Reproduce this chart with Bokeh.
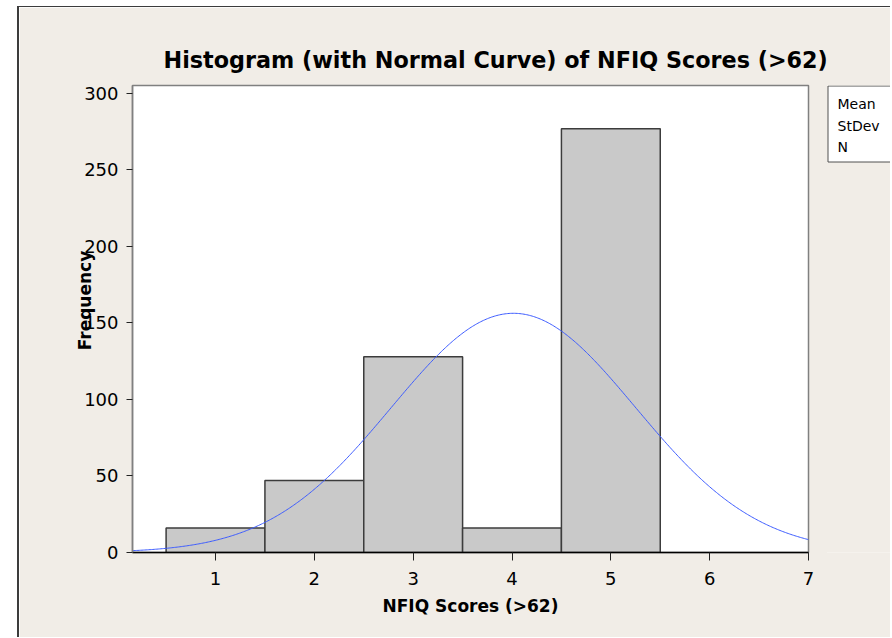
import numpy as np
from bokeh.plotting import figure
from bokeh.layouts import row
from bokeh.models import Range1d, FixedTicker, Label, BoxAnnotation
from bokeh.embed import file_html
from bokeh.resources import INLINE

# ---- data ----
scores = [1, 2, 3, 4, 5]
frequency = [16, 47, 128, 16, 277]
bin_width = 1.0
x_ticks = [1, 2, 3, 4, 5, 6, 7]
y_ticks = [0, 50, 100, 150, 200, 250, 300]
stat_names = ["Mean", "StDev", "N"]

title_text = "Histogram (with Normal Curve) of NFIQ Scores (>62)"
x_label = "NFIQ Scores (>62)"
y_label = "Frequency"

# fitted normal curve parameters derived from the histogram counts
s_arr = np.array(scores, dtype=float)
f_arr = np.array(frequency, dtype=float)
n_obs = f_arr.sum()
mean_v = (s_arr * f_arr).sum() / n_obs
sd_v = np.sqrt(((s_arr - mean_v) ** 2 * f_arr).sum() / (n_obs - 1))

# ---- layout ----
BG = "#f1ede7"
FONT = "DejaVu Sans"
X0, X1 = 0.16, 7.0
Y0, Y1 = 0.0, 305.2
W, H = 810, 631
ML, MR, MT, MB = 113, 21, 78, 86
FH = H - MT - MB
W2 = 64

p = figure(width=W, height=H, x_range=Range1d(X0, X1), y_range=Range1d(Y0, Y1),
           output_backend="svg", toolbar_location=None,
           min_border_left=ML, min_border_right=MR, min_border_top=MT, min_border_bottom=MB,
           background_fill_color="white", border_fill_color=BG)
p.styles = {"margin-left": "17px", "margin-top": "6px",
            "border-left": "2px solid #3c3c3c", "border-top": "1px solid #3c3c3c"}

p.grid.visible = False
p.outline_line_color = "#808080"
p.outline_line_width = 1.5

# title
p.title.text = title_text
p.title.text_font = FONT
p.title.text_font_style = "bold"
p.title.text_font_size = "22.3px"
p.title.text_color = "black"
p.title.align = "left"
p.title.offset = 31
p.title.standoff = 26

lefts = [s - bin_width / 2 for s in scores]
rights = [s + bin_width / 2 for s in scores]
p.quad(left=lefts, right=rights, top=frequency, bottom=0,
       fill_color="#c9c9c9", line_color="#3c3c3c", line_width=1.5)

xs = np.linspace(X0, X1, 500)
ys = n_obs * bin_width / (sd_v * np.sqrt(2 * np.pi)) * np.exp(-0.5 * ((xs - mean_v) / sd_v) ** 2)
p.line(xs, ys, line_color="#3d5cff", line_width=1)

# axes
p.xaxis.ticker = FixedTicker(ticks=x_ticks)
p.yaxis.ticker = FixedTicker(ticks=y_ticks)
for ax in (p.xaxis, p.yaxis):
    ax.major_tick_in = 0
    ax.minor_tick_line_color = None
    ax.major_tick_line_color = "#222222"
    ax.major_tick_line_width = 1
    ax.major_label_text_font = FONT
    ax.major_label_text_font_size = "18px"
    ax.major_label_text_color = "black"
    ax.axis_label_text_font = FONT
    ax.axis_label_text_font_style = "bold"
    ax.axis_label_text_font_size = "17px"
    ax.axis_label_text_color = "black"
p.xaxis.major_tick_out = 8
p.yaxis.major_tick_out = 6
p.xaxis.major_label_standoff = 11
p.yaxis.major_label_standoff = 8
p.xaxis.axis_line_color = "black"
p.xaxis.axis_line_width = 1.5
p.yaxis.axis_line_color = "#808080"
p.yaxis.axis_line_width = 1.5

p.xaxis.axis_label = x_label
p.xaxis.axis_label_standoff = 8

# y-axis title, drawn in the left panel so that it can overlap the tick labels
p.add_layout(Label(x=63, y=292, x_units="canvas", y_units="canvas", text=y_label,
                   angle=np.pi / 2, text_align="center", text_baseline="middle",
                   text_font=FONT, text_font_style="bold", text_font_size="17px",
                   text_color="black"), "left")

# statistics box, cut off at the right edge as in the reference
# (its frame is aligned with the main frame; data units = canvas pixels)
p2 = figure(width=W2, height=H, x_range=Range1d(0, W2), y_range=Range1d(MT + FH, MT),
            output_backend="svg", toolbar_location=None,
            min_border_left=0, min_border_right=0, min_border_top=MT, min_border_bottom=MB,
            background_fill_color=BG, border_fill_color=BG, outline_line_color=None)
p2.axis.visible = False
p2.grid.visible = False
p2.styles = {"margin-top": "6px", "margin-left": "-1px", "border-top": "1px solid #3c3c3c"}
p2.add_layout(BoxAnnotation(left=1.5, right=W2 + 10, top=78.5, bottom=154.5,
                            fill_color="white", fill_alpha=1.0,
                            line_color="#505050", line_width=1, line_alpha=1.0))
for i, name in enumerate(stat_names):
    p2.add_layout(Label(x=11, y=96.5 + i * 21.7, text=name,
                        text_align="left", text_baseline="middle",
                        text_font=FONT, text_font_size="14px", text_color="black"))

layout = row(p, p2, spacing=0)
open("out.html", "w").write(file_html(layout, INLINE))
